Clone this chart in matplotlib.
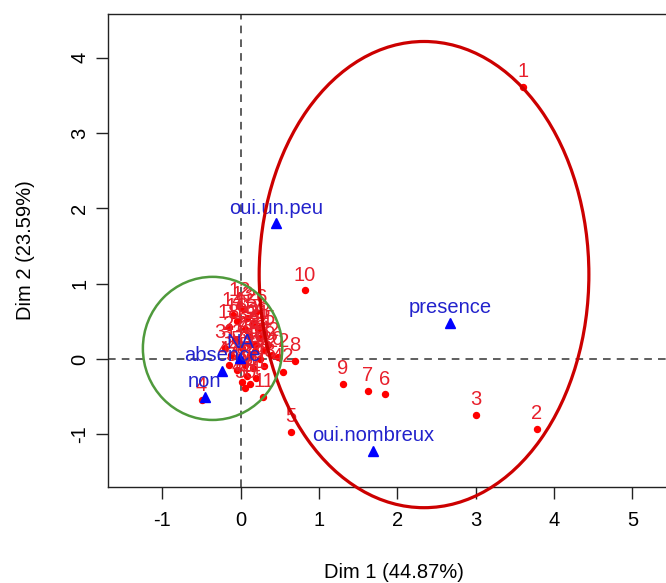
import matplotlib

matplotlib.use("Agg")
import matplotlib.pyplot as plt  # noqa: E402
from matplotlib.patches import Ellipse  # noqa: E402

plt.rcParams["font.family"] = ["Liberation Sans", "DejaVu Sans"]
plt.rcParams["axes.unicode_minus"] = False

# individuals (red dots)
ind_labels = [
    "1", "2", "3", "4", "5", "6", "7", "8", "9", "10", "11",
    "12", "13", "14", "15", "16", "17", "18", "19", "20", "21", "22",
    "23", "24", "25", "26", "27", "28", "29", "30", "31", "32", "33",
    "34", "35", "36", "37", "38", "39", "40", "41", "42", "43", "44",
    "45", "46", "47", "48", "49", "50",
]
ind_x = [
    3.60, 3.78, 3.00, -0.50, 0.64, 1.84, 1.62, 0.69, 1.30, 0.82, 0.29,
    -0.02, 0.03, -0.10, 0.08, -0.05, 0.15, -0.15, 0.05, 0.40, 0.22, 0.48,
    0.10, 0.25, 0.30, 0.20, -0.08, 0.24, 0.18, 0.30, -0.20, 0.35, 0.02,
    0.12, -0.12, 0.25, 0.05, -0.05, 0.15, 0.08, 0.20, 0.54, 0.02, 0.12,
    -0.02, 0.18, -0.15, 0.30, 0.10, 0.06,
]
ind_y = [
    3.61, -0.93, -0.74, -0.55, -0.97, -0.47, -0.42, -0.03, -0.33, 0.91, -0.50,
    0.70, 0.66, 0.58, 0.55, 0.50, 0.48, 0.42, 0.40, 0.05, 0.40, 0.03,
    0.30, 0.28, 0.33, 0.62, 0.25, 0.43, 0.20, 0.12, 0.15, 0.18, 0.15,
    0.05, 0.05, 0.00, -0.08, -0.15, -0.12, -0.22, -0.25, -0.17, -0.30, -0.33,
    -0.02, 0.10, -0.08, -0.10, 0.20, -0.38,
]

# categories (blue triangles)
cat_labels = ["non", "absence", "NA", "oui.un.peu", "presence", "oui.nombreux"]
cat_x = [-0.46, -0.24, -0.01, 0.45, 2.67, 1.69]
cat_y = [-0.50, -0.16, 0.01, 1.80, 0.48, -1.22]

# confidence ellipses: center x, center y, width, height
ell_red = (2.34, 1.12, 4.21, 6.19)
ell_green = (-0.36, 0.14, 1.78, 1.90)

xticks = [-1, 0, 1, 2, 3, 4, 5]
yticks = [-1, 0, 1, 2, 3, 4]

FS = 14.5

fig = plt.figure(figsize=(6.66, 5.83), dpi=100)
ax = fig.add_axes([0.1622, 0.1647, 0.859, 0.8113])
ax.set_xlim(-1.695, 5.61)
ax.set_ylim(-1.70, 4.58)

ax.axhline(0, color="#333333", lw=1.1, dashes=(5, 4), zorder=1)
ax.axvline(0, color="#333333", lw=1.1, dashes=(5, 4), zorder=1)

ax.plot(ind_x, ind_y, "o", color="red", ms=4.3, mec="red", zorder=2)
for lab, x, y in zip(ind_labels, ind_x, ind_y):
    ax.annotate(lab, (x, y), xytext=(0, 7), textcoords="offset points",
                ha="center", va="baseline", color="#e8202c", fontsize=FS,
                zorder=3)

ax.plot(cat_x, cat_y, "^", color="blue", ms=7.5, zorder=4)
for lab, x, y in zip(cat_labels, cat_x, cat_y):
    ax.annotate(lab, (x, y), xytext=(0, 7), textcoords="offset points",
                ha="center", va="baseline", color="#2222cc", fontsize=FS,
                zorder=5)

cx, cy, w, h = ell_red
ax.add_patch(Ellipse((cx, cy), w, h, fill=False, ec="#cc0000", lw=2.3,
                     clip_on=False, zorder=6))
cx, cy, w, h = ell_green
ax.add_patch(Ellipse((cx, cy), w, h, fill=False, ec="#4f9a3c", lw=1.8,
                     zorder=6))

ax.set_xticks(xticks)
ax.set_yticks(yticks)
ax.tick_params(direction="out", length=8.6, width=1, labelsize=FS,
               color="#222222")
ax.tick_params(axis="x", pad=9)
ax.tick_params(axis="y", pad=5)
for t in ax.get_yticklabels():
    t.set_rotation(90)
    t.set_va("center")
for s in ax.spines.values():
    s.set_linewidth(1)
    s.set_color("#222222")

ax.set_xlabel("Dim 1 (44.87%)", fontsize=FS, va="center")
ax.set_ylabel("Dim 2 (23.59%)", fontsize=FS, va="center")
ax.xaxis.set_label_coords(0.5, -0.18)
ax.yaxis.set_label_coords(-0.145, 0.5)

fig.savefig("out.png", dpi=100)
